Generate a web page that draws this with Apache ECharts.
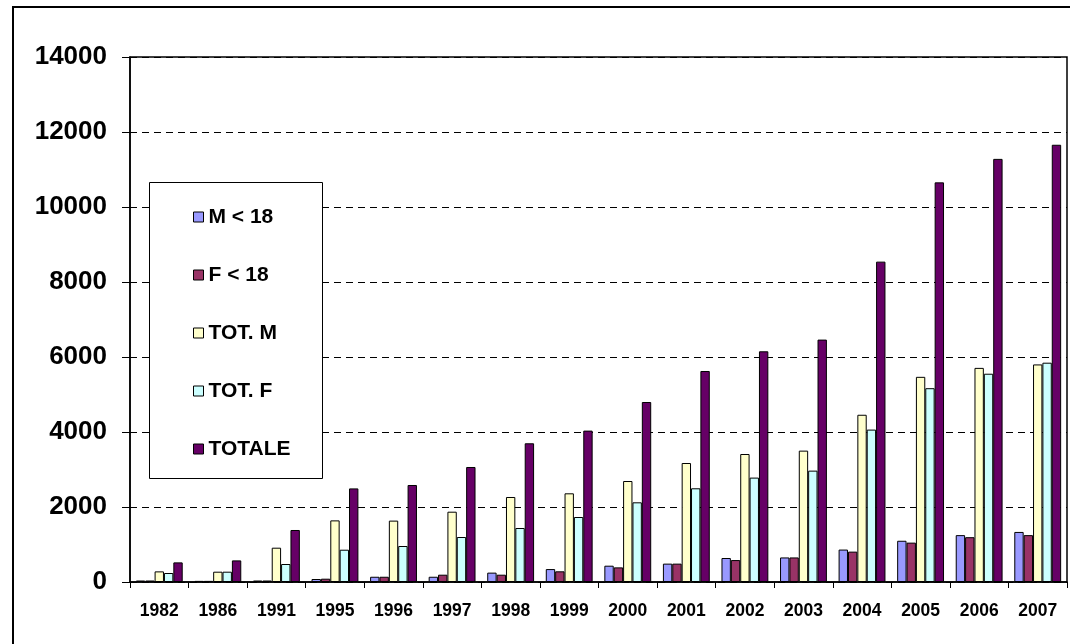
<!DOCTYPE html>
<html>
<head>
<meta charset="utf-8">
<script src="https://cdn.jsdelivr.net/npm/echarts@6/dist/echarts.min.js"></script>
<style>
  html, body { margin: 0; padding: 0; background: #fff; }
  #chart { width: 1070px; height: 644px; }
</style>
</head>
<body>
<div id="chart"></div>
<script>
// anni
var years = ["1982", "1986", "1991", "1995", "1996", "1997", "1998", "1999",
  "2000", "2001", "2002", "2003", "2004", "2005", "2006", "2007"];

// valori
var mUnder18 = [40, 30, 40, 80, 140, 140, 250, 345, 435, 490, 640, 655, 865, 1100, 1250, 1335];
var fUnder18 = [40, 30, 40, 88, 140, 195, 195, 285, 390, 490, 585, 655, 810, 1050, 1195, 1250];
var totM = [283, 275, 915, 1643, 1637, 1875, 2267, 2365, 2693, 3173, 3413, 3503, 4460, 5471, 5710, 5802];
var totF = [240, 275, 480, 861, 960, 1200, 1440, 1733, 2125, 2499, 2784, 2970, 4064, 5168, 5554, 5848];
var totale = [523, 576, 1387, 2496, 2587, 3067, 3699, 4037, 4800, 5627, 6152, 6464, 8543, 10657, 11283, 11660];

var yTicks = [0, 2000, 4000, 6000, 8000, 10000, 12000, 14000];

var seriesDefs = [
  { name: "M < 18", data: mUnder18, color: "#9999FF" },
  { name: "F < 18", data: fUnder18, color: "#993366" },
  { name: "TOT. M", data: totM, color: "#FFFFCC" },
  { name: "TOT. F", data: totF, color: "#CCFFFF" },
  { name: "TOTALE", data: totale, color: "#660066" }
];

var chart = echarts.init(document.getElementById("chart"));

var option = {
  animation: false,
  textStyle: { fontFamily: "Arial, 'Liberation Sans', sans-serif" },
  graphic: [
    {
      type: "rect",
      z: 0,
      shape: { x: 13, y: 7, width: 1100, height: 700 },
      style: { fill: null, stroke: "#000", lineWidth: 2 }
    },
    {
      // riquadro della legenda
      type: "rect",
      z: 3,
      shape: { x: 149.5, y: 182.5, width: 173, height: 296 },
      style: { fill: "#fff", stroke: "#000", lineWidth: 1 }
    }
  ],
  legend: {
    orient: "vertical",
    left: 188,
    top: 200,
    z: 5,
    itemWidth: 10,
    itemHeight: 10,
    itemGap: 34,
    icon: "rect",
    itemStyle: { borderColor: "#000", borderWidth: 1 },
    textStyle: {
      fontSize: 21,
      fontWeight: "bold",
      color: "#000",
      lineHeight: 24
    },
    data: seriesDefs.map(function (s) { return s.name; })
  },
  grid: {
    left: 130,
    top: 57,
    right: 3,
    bottom: 62,
    show: true,
    borderColor: "#000",
    borderWidth: 1.5,
    containLabel: false
  },
  xAxis: {
    type: "category",
    data: years,
    axisLine: { lineStyle: { color: "#000", width: 1.5 } },
    axisTick: { show: true, alignWithLabel: false, length: 6, lineStyle: { color: "#000" } },
    axisLabel: {
      color: "#000",
      fontSize: 17.5,
      fontWeight: "bold",
      margin: 20,
      interval: 0
    }
  },
  yAxis: {
    type: "value",
    min: yTicks[0],
    max: yTicks[yTicks.length - 1],
    interval: 2000,
    axisLine: { show: true, lineStyle: { color: "#000", width: 1.5 } },
    axisTick: { show: true, length: 8, lineStyle: { color: "#000" } },
    axisLabel: {
      color: "#000",
      fontSize: 26,
      fontWeight: "bold",
      margin: 23,
      formatter: function (v) { return String(v); }
    },
    splitLine: {
      show: true,
      lineStyle: { color: "#000", type: [7, 5], width: 1 }
    }
  },
  series: seriesDefs.map(function (s) {
    return {
      name: s.name,
      type: "bar",
      data: s.data,
      barGap: "0%",
      barCategoryGap: "20%",
      itemStyle: { color: s.color, borderColor: "#000", borderWidth: 1 }
    };
  })
};

chart.setOption(option);
</script>
</body>
</html>
